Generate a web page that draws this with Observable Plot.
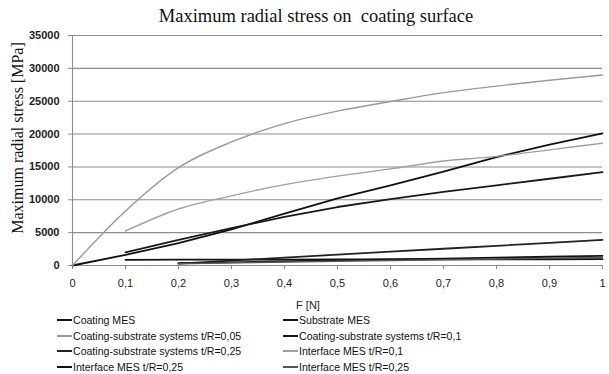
<!DOCTYPE html>
<html>
<head>
<meta charset="utf-8">
<script src="https://cdn.jsdelivr.net/npm/d3@7"></script>
<script src="https://cdn.jsdelivr.net/npm/@observablehq/plot@0.6"></script>
<style>
  html, body { margin: 0; padding: 0; background: #fff; }
  #wrap { position: relative; width: 609px; height: 374px; overflow: hidden; }
  #title { position: absolute; left: 316px; top: 6px; transform: translateX(-50%);
    font-family: "Liberation Serif", "Times New Roman", serif; font-size: 18.5px; color: #111; white-space: pre; }
  #ytitle { position: absolute; left: 18px; top: 138px; transform: translate(-50%, -50%) rotate(-90deg);
    font-family: "Liberation Serif", serif; font-size: 16px; color: #111; white-space: nowrap; }
  #xtitle { position: absolute; left: 308px; top: 299px; transform: translateX(-50%);
    font-family: "Liberation Sans", sans-serif; font-size: 11px; color: #222; }
  #plot { position: absolute; left: 0; top: 0; }
  .leg { position: absolute; font-family: "Liberation Sans", sans-serif;
    font-size: 11px; color: #111; white-space: nowrap; display: flex; align-items: center; }
  .leg span.sw { display: inline-block; width: 15px; height: 0; border-top: 2px solid #000; margin-right: 1px; }
  .leg span.tx { display: inline-block; transform: scaleX(0.96); transform-origin: left center; }
</style>
</head>
<body>
<div id="wrap">
  <div id="title">Maximum radial stress on  coating surface</div>
  <div id="plot"></div>
  <div id="ytitle">Maximum radial stress [MPa]</div>
  <div id="xtitle">F [N]</div>
  <div id="legend"></div>
</div>
<script>
// Force values F [N]
const F = [0, 0.1, 0.2, 0.3, 0.4, 0.5, 0.6, 0.7, 0.8, 0.9, 1];

// Series values (MPa); null = not computed
const coatingMES      = [0, 1600, 3400, 5500, 7900, 10200, 12200, 14300, 16500, 18400, 20100];
const substrateMES    = [null, 870, 880, 890, 900, 910, 920, 930, 940, 950, 960];
const cs005           = [0, 8300, 14900, 18800, 21600, 23500, 24950, 26300, 27300, 28200, 29000];
const cs01            = [null, 2000, 3900, 5700, 7400, 8900, 10100, 11200, 12200, 13200, 14200];
const cs025           = [null, null, 300, 750, 1200, 1650, 2100, 2550, 3000, 3450, 3900];
const interface01     = [null, 5250, 8600, 10600, 12300, 13600, 14700, 15900, 16600, 17600, 18600];
const interface025a   = [null, null, 350, 490, 630, 770, 910, 1050, 1190, 1330, 1470];
const interface025b   = [null, null, 280, 400, 520, 640, 760, 880, 1000, 1120, 1240];

const seriesNames = [
  "Coating MES", "Substrate MES",
  "Coating-substrate systems t/R=0,05", "Coating-substrate systems t/R=0,1",
  "Coating-substrate systems t/R=0,25", "Interface MES t/R=0,1",
  "Interface MES t/R=0,25", "Interface MES t/R=0,25"
];
const seriesValues = [coatingMES, substrateMES, cs005, cs01, cs025, interface01, interface025a, interface025b];
const seriesColors = ["#111", "#111", "#9a9a9a", "#1a1a1a", "#222", "#a0a0a0", "#111", "#555"];
const seriesWidths = [1.8, 1.8, 1.4, 1.8, 1.8, 1.4, 1.8, 1.5];
const seriesCurve  = ["linear", "linear", "monotone-x", "linear", "linear", "monotone-x", "linear", "linear"];

const yTicks = [0, 5000, 10000, 15000, 20000, 25000, 30000, 35000];
const xTicks = F;

const fmtX = d => String(d).replace(".", ",");

const marks = [
  Plot.ruleY(yTicks, {stroke: "#8c8c8c", strokeWidth: 1.1}),
  Plot.ruleX([0], {stroke: "#8c8c8c", strokeWidth: 1.1}),
  Plot.axisX({ticks: xTicks, tickFormat: fmtX, tickSize: 4, tickPadding: 10, stroke: "#8c8c8c",
    fontSize: 11, label: null, fill: "#222"}),
  Plot.axisY({ticks: yTicks, tickFormat: d => String(d), tickSize: 4, tickPadding: 9, stroke: "#8c8c8c",
    fontSize: 11, label: null, fill: "#222", fontWeight: "bold"})
];
seriesValues.forEach((vals, i) => {
  const data = F.map((f, j) => ({f, v: vals[j]})).filter(d => d.v != null);
  marks.push(Plot.line(data, {x: "f", y: "v", stroke: seriesColors[i], strokeWidth: seriesWidths[i], curve: seriesCurve[i]}));
});

const chart = Plot.plot({
  width: 609,
  height: 310,
  marginTop: 35,
  marginBottom: 45,
  marginLeft: 72,
  marginRight: 7,
  style: {fontFamily: "Liberation Sans, sans-serif", background: "transparent"},
  x: {domain: [0, 1]},
  y: {domain: [0, 35000]},
  marks
});
document.getElementById("plot").appendChild(chart);

// legend
const legPos = [[57, 321], [283, 321], [57, 336.5], [283, 336.5], [57, 352], [283, 352], [57, 367.5], [283, 367.5]];
const legend = document.getElementById("legend");
seriesNames.forEach((n, i) => {
  const d = document.createElement("div");
  d.className = "leg";
  d.style.left = legPos[i][0] + "px";
  d.style.top = (legPos[i][1] - 7) + "px";
  d.innerHTML = `<span class="sw" style="border-top-color:${seriesColors[i]}"></span>`;
  const t = document.createElement("span");
  t.className = "tx";
  t.textContent = n;
  d.appendChild(t);
  legend.appendChild(d);
});
</script>
</body>
</html>
